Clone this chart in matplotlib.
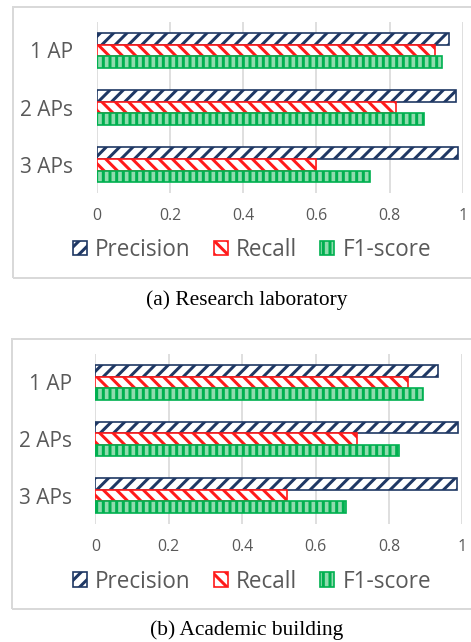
import matplotlib
matplotlib.use("Agg")
import matplotlib.pyplot as plt
from matplotlib.patches import Rectangle, Patch
import numpy as np

categories = ["1 AP", "2 APs", "3 APs"]
series = ["Precision", "Recall", "F1-score"]
lab_precision = [0.962, 0.982, 0.985]
lab_recall = [0.923, 0.818, 0.600]
lab_f1 = [0.944, 0.894, 0.746]
acad_precision = [0.933, 0.987, 0.985]
acad_recall = [0.853, 0.712, 0.521]
acad_f1 = [0.892, 0.827, 0.682]
xticks = [0, 0.2, 0.4, 0.6, 0.8, 1]
xtick_labels = ["0", "0.2", "0.4", "0.6", "0.8", "1"]
captions = ["(a) Research laboratory", "(b) Academic building"]

DPI = 120
W, H = 471, 642
plt.rcParams['hatch.linewidth'] = 1.8
fig = plt.figure(figsize=(W / DPI, H / DPI), dpi=DPI)

styles = [
    dict(facecolor="white", edgecolor="#1f3864", hatch="///"),
    dict(facecolor="white", edgecolor="#ff1a1a", hatch="\\\\\\"),
    dict(facecolor="#8fdcae", edgecolor="#00b050", hatch="|||"),
]
FONT = "Open Sans"
GRAY = "#595959"

def panel(ax_rect, frame, legend_y, caption, cap_y, data):
    x0, y0 = frame[0] / W, 1 - frame[3] / H
    fw, fh = (frame[2] - frame[0]) / W, (frame[3] - frame[1]) / H
    fig.patches.append(Rectangle((x0, y0), fw, fh, transform=fig.transFigure,
                                 facecolor="none", edgecolor="#d9d9d9", lw=1.2))
    l, t, r, b = ax_rect
    ax = fig.add_axes([l / W, 1 - b / H, (r - l) / W, (b - t) / H])
    n = len(categories)
    ypos = np.arange(n)
    bh = 0.205
    for i, (vals, st) in enumerate(zip(data, styles)):
        ax.barh(ypos + (i - 1) * bh, vals, height=bh, linewidth=1.0,
                label=series[i], zorder=3, **st)
    ax.set_xlim(0, 1)
    ax.set_ylim(n - 0.5, -0.5)
    ax.set_xticks(xticks)
    ax.set_xticklabels(xtick_labels, fontsize=9.5, color=GRAY, family=FONT)
    ax.set_yticks(ypos)
    ax.set_yticklabels(categories, fontsize=12.5, color=GRAY, family=FONT)
    ax.tick_params(length=0)
    ax.tick_params(axis='x', pad=9)
    ax.tick_params(axis='y', pad=14)
    for s in ax.spines.values():
        s.set_visible(False)
    ax.grid(axis='x', color="#d9d9d9", lw=1.0, zorder=0)
    ax.set_axisbelow(True)
    handles = [Patch(label=series[i], linewidth=1.0, **styles[i]) for i in range(3)]
    fig.legend(handles=handles, loc="center", bbox_to_anchor=(251.8 / W, 1 - legend_y / H),
               ncol=3, frameon=False, handlelength=0.62, handleheight=0.62,
               handletextpad=0.35, columnspacing=1.05,
               prop=dict(family=FONT, size=13.5), labelcolor=GRAY)
    fig.text(247 / W, 1 - cap_y / H, caption, ha="center", va="center",
             family="Liberation Serif", fontsize=12.8, color="black")
    return ax

panel((96.7, 21.8, 463, 193.3), (13.3, 7.3, 480, 277.7), 250, captions[0], 300,
      [lab_precision, lab_recall, lab_f1])
panel((95.3, 354.2, 462.3, 523.8), (11.7, 339.3, 480, 609.3), 581.7, captions[1], 630,
      [acad_precision, acad_recall, acad_f1])

fig.savefig("out.png", dpi=DPI)
